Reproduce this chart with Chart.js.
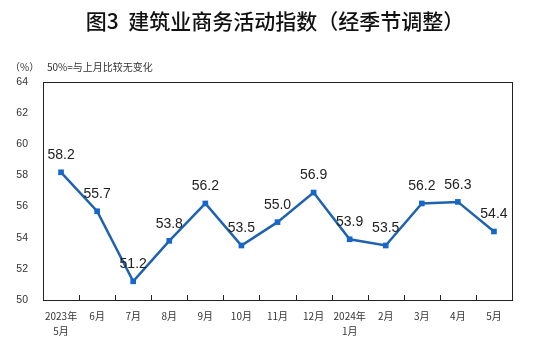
<!DOCTYPE html>
<html>
<head>
<meta charset="utf-8">
<script src="https://cdn.jsdelivr.net/npm/chart.js@4/dist/chart.umd.min.js"></script>
<style>
  html, body { margin: 0; padding: 0; background: #fff; }
  #wrap { width: 553px; height: 343px; position: relative; }
</style>
</head>
<body>
<div id="wrap"><canvas id="c"></canvas></div>
<script>
// Monthly construction business activity index, seasonally adjusted
const months = [
  ['2023年', '5月'], '6月', '7月', '8月', '9月', '10月', '11月', '12月',
  ['2024年', '1月'], '2月', '3月', '4月', '5月'
];
const indexValues = [58.2, 55.7, 51.2, 53.8, 56.2, 53.5, 55.0, 56.9, 53.9, 53.5, 56.2, 56.3, 54.4];
const yTicks = [50, 52, 54, 56, 58, 60, 62, 64];

const titleText = '图3  建筑业商务活动指数（经季节调整）';
const unitText = '（%）';
const noteText = '50%=与上月比较无变化';

const CJK = '"Noto Sans CJK SC", "Liberation Sans", sans-serif';
const LATIN = '"Liberation Sans", Arial, sans-serif';

const decorations = {
  id: 'decorations',
  afterDraw(chart) {
    const { ctx, chartArea: a, scales } = chart;
    const x = scales.x, y = scales.y;
    ctx.save();

    // frame around plot area
    ctx.strokeStyle = '#222';
    ctx.lineWidth = 1;
    ctx.strokeRect(Math.round(a.left) + 0.5, Math.round(a.top) + 0.5,
                   Math.round(a.right - a.left), Math.round(a.bottom - a.top));

    // inward tick marks between months
    ctx.beginPath();
    for (let i = 1; i < months.length; i++) {
      const px = Math.round((x.getPixelForValue(i - 1) + x.getPixelForValue(i)) / 2) + 0.5;
      ctx.moveTo(px, a.bottom);
      ctx.lineTo(px, a.bottom - 5);
    }
    ctx.stroke();

    // value labels above each point
    ctx.fillStyle = '#222';
    ctx.font = '14px ' + LATIN;
    ctx.textAlign = 'center';
    ctx.textBaseline = 'middle';
    indexValues.forEach((v, i) => {
      ctx.fillText(v.toFixed(1), x.getPixelForValue(i), y.getPixelForValue(v) - 17);
    });

    // title and notes
    ctx.fillStyle = '#111';
    ctx.font = '500 21px ' + CJK;
    ctx.textAlign = 'center';
    ctx.fillText(titleText, 275, 21);

    ctx.fillStyle = '#333';
    ctx.textAlign = 'left';
    ctx.font = '10px ' + CJK;
    ctx.fillText(unitText, 10, 67);
    ctx.fillText(noteText, 47, 67);
    ctx.restore();
  }
};

new Chart(document.getElementById('c'), {
  type: 'line',
  data: {
    labels: months,
    datasets: [{
      data: indexValues,
      borderColor: '#1f62b0',
      backgroundColor: '#1667c8',
      borderWidth: 2.5,
      pointStyle: 'rect',
      pointRadius: 4,
      pointBorderWidth: 0,
      tension: 0
    }]
  },
  options: {
    responsive: true,
    maintainAspectRatio: false,
    animation: false,
    layout: { padding: { top: 82, right: 41, left: 0, bottom: 0 } },
    plugins: { legend: { display: false }, tooltip: { enabled: false }, title: { display: false } },
    scales: {
      x: {
        offset: true,
        grid: { display: false, drawTicks: false },
        border: { display: false },
        ticks: {
          color: '#333',
          font: { family: CJK, size: 10, lineHeight: 1.45 },
          padding: 9,
          maxRotation: 0,
          autoSkip: false
        },
        afterFit(s) { s.height = 43; }
      },
      y: {
        min: 50,
        max: 64,
        afterBuildTicks(s) { s.ticks = yTicks.map(v => ({ value: v })); },
        grid: { display: false, drawTicks: false },
        border: { display: false },
        ticks: {
          color: '#333',
          font: { family: LATIN, size: 10.5 },
          padding: 15
        },
        afterFit(s) { s.width = 43; }
      }
    }
  },
  plugins: [decorations]
});
</script>
</body>
</html>
